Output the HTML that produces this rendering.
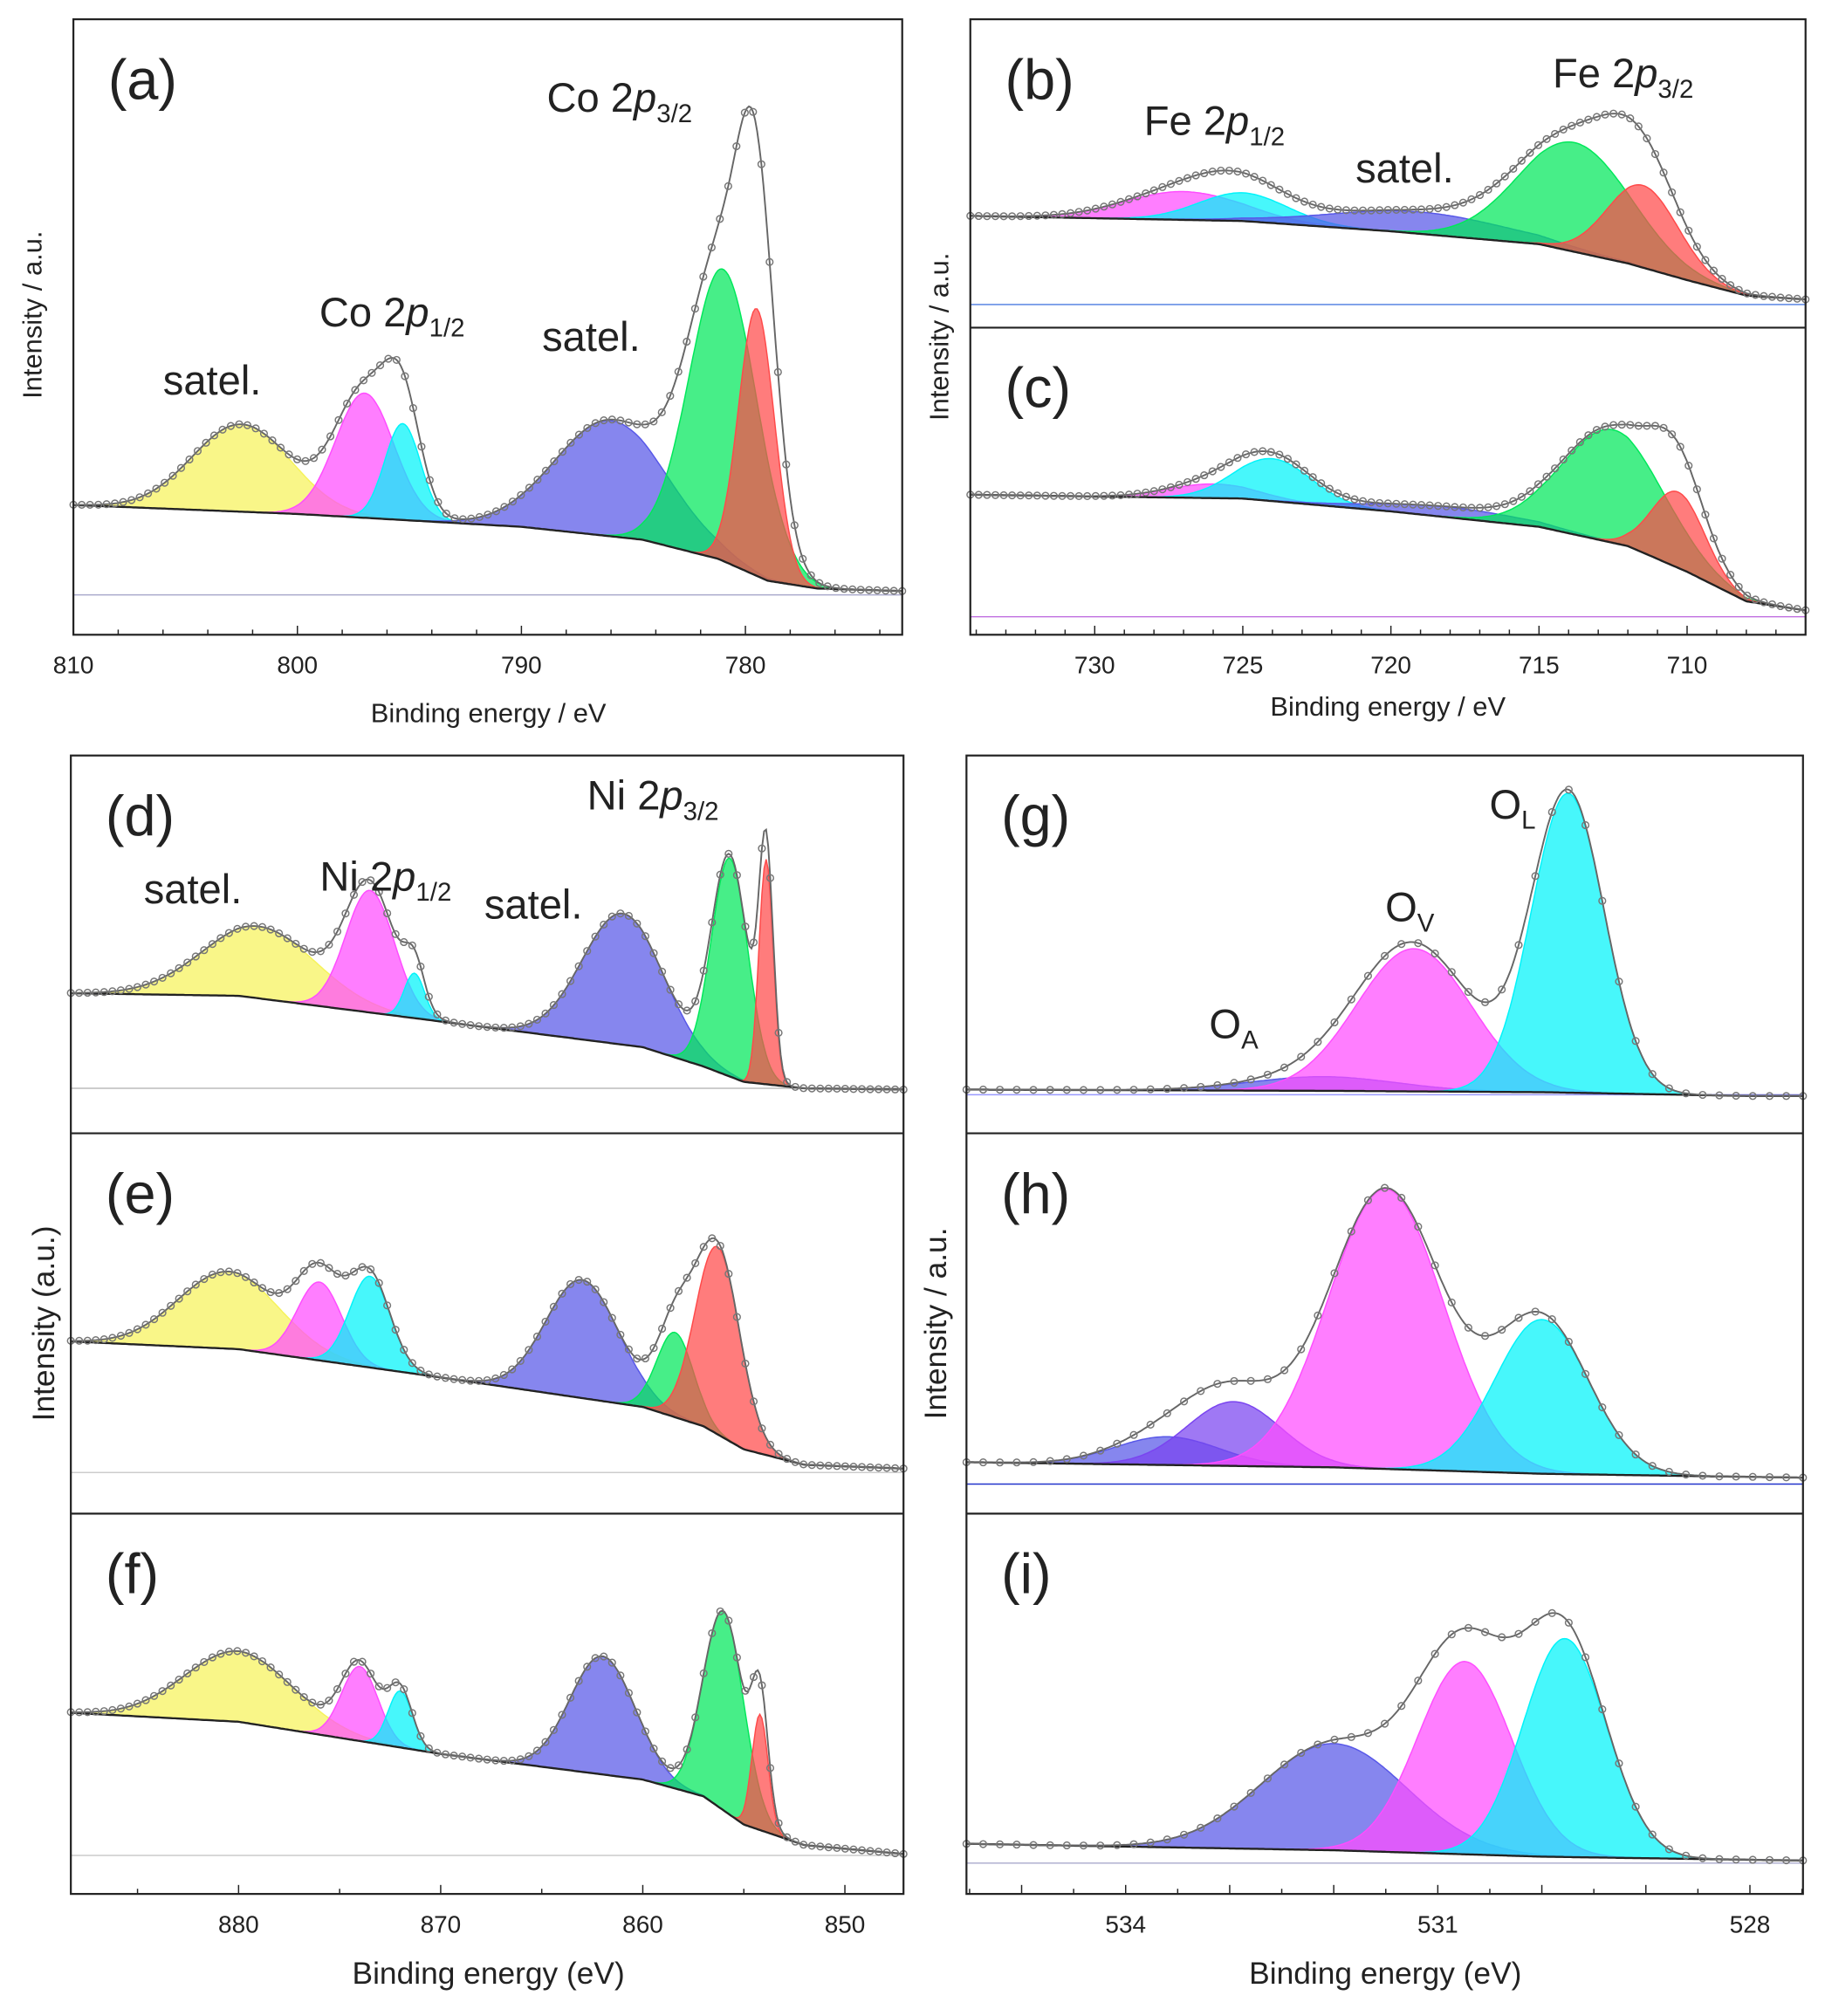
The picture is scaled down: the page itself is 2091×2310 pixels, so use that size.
<!DOCTYPE html>
<html><head><meta charset="utf-8"><style>
html,body{margin:0;padding:0;background:#fff}
svg{display:block}
text{font-family:"Liberation Sans",sans-serif;fill:#222}
</style></head><body>
<svg id="fig" width="2091" height="2310" viewBox="0 0 1420 1569" xmlns="http://www.w3.org/2000/svg"></svg>
<script>
// ---- data (energies in eV, intensities in arbitrary counts) ----
// panel a: Co 2p
const aCenters=[802.5,797,795.3,786,781,779.5];
const aHeights=[68,97,75,90,227,208];
const aWidths=[2.2,1.3,0.8,2.5,1.5,0.8];
const aColors=['yellow','magenta','cyan','blue','green','red'];
const aBgE=[810,800,790,784.6,781.2,779,776.8,773];
const aBgI=[101,94,84,74,59,42,36,34];
// panel b: Fe 2p
const bCenters=[727,725,719,713.8,711.5];
const bHeights=[22,22,17,85,64];
const bWidths=[2,1.5,3,1.9,1.2];
const bColors=['magenta','cyan','blue','green','red'];
const bBgE=[734.2,725,720,715,712,710,708,706];
const bBgI=[87,83,75,65,50,37,25,22];
// panel c
const cCenters=[726,724,718,712.5,710.3];
const cHeights=[11,33,8,88,59];
const cWidths=[1.5,1.3,2.5,1.7,0.9];
const cColors=['magenta','cyan','blue','green','red'];
const cBgE=[734.2,725,720,715,712,710,708,706];
const cBgI=[109,106,96,84,69,49,26,19];
// panel d: Ni 2p
const dCenters=[879,873.5,871.3,861,855.7,853.9];
const dHeights=[56,95,35,102,170,175];
const dWidths=[2.8,1.2,0.5,2,0.9,0.35];
const dColors=['yellow','magenta','cyan','blue','green','red'];
const dBgE=[888.3,880,870,860,857,855,852,847];
const dBgI=[109,107,87,67,52,40,35,34];
// panel e
const eCenters=[880.5,876,873.5,863,858.4,856.3];
const eHeights=[60,61,71,92,66,146];
const eWidths=[2.5,1.1,1,1.8,0.9,1.1];
const eColors=['yellow','magenta','cyan','blue','green','red'];
const eBgE=[888.3,880,870,860,857,855,852,847];
const eBgI=[134,128,106,83,68,50,38,35];
// panel f
const fCenters=[880,874,872,862,856,854.2];
const fHeights=[55,58,44,92,155,90];
const fWidths=[2.7,0.9,0.6,1.6,1,0.4];
const fColors=['yellow','magenta','cyan','blue','green','red'];
const fBgE=[888.3,880,870,860,857,855,852,847];
const fBgI=[141,134,109,89,76,54,38,31];
// panel g: O 1s
const gCenters=[532.1,531.23,529.75];
const gHeights=[11,111,233];
const gWidths=[0.7,0.55,0.35];
const gColors=['blue','magenta','cyan'];
const gBgE=[535.5,532,530,528,527.5];
const gBgI=[34,33,32,29,29];
// panel h
const hCenters=[533.6,532.96,531.5,530.0];
const hHeights=[22,50,218,120];
const hWidths=[0.5,0.45,0.55,0.45];
const hColors=['blue','violet','magenta','cyan'];
const hBgE=[535.5,532,530,527.5];
const hBgI=[40,36,31,28];
// panel i
const iCenters=[532.0,530.74,529.78];
const iHeights=[83,150,170];
const iWidths=[0.7,0.45,0.4];
const iColors=['blue','magenta','cyan'];
const iBgE=[535.5,532,530,527.5];
const iBgI=[39,34,29,26];

const FILL={yellow:'#f6f35a',magenta:'#ff4cff',cyan:'#00f4fa',blue:'#5858e8',green:'#00e85a',red:'#ff4a4a',violet:'#7a44f0'};
const NS='http://www.w3.org/2000/svg';
const svg=document.getElementById('fig');
function mk(tag,attrs,parent){const e=document.createElementNS(NS,tag);for(const k in attrs)e.setAttribute(k,attrs[k]);(parent||svg).appendChild(e);return e;}
function interp(E,I,x){for(let k=0;k<E.length-1;k++){const a=E[k],b=E[k+1];if((x<=a&&x>=b)){return I[k]+(I[k+1]-I[k])*(a-x)/(a-b);}}return x>E[0]?I[0]:I[I.length-1];}
function gauss(c,h,w,x){return h*Math.exp(-(x-c)*(x-c)/(2*w*w));}

function panel(p){
  const g=mk('g',{});
  
  
  const xs=e=>p.x0+(p.eL-e)/(p.eL-p.eR)*(p.x1-p.x0);
  const ys=v=>p.yb-v;
  const N=400, E=[];
  for(let k=0;k<=N;k++)E.push(p.eL-(p.eL-p.eR)*k/N);
  const bg=E.map(e=>interp(p.bgE,p.bgI,e));
  const zl=mk('line',{x1:p.x0,x2:p.x1,y1:ys(p.zero),y2:ys(p.zero),stroke:p.zeroColor,'stroke-width':1},g);
  
  p.centers.forEach((c,j)=>{
    let d='';
    E.forEach((e,k)=>{d+=(k?'L':'M')+xs(e).toFixed(1)+','+ys(bg[k]+gauss(c,p.heights[j],p.widths[j],e)).toFixed(1);});
    for(let k=N;k>=0;k--)d+='L'+xs(E[k]).toFixed(1)+','+ys(bg[k]).toFixed(1);
    const pk=mk('path',{d:d+'Z',fill:FILL[p.colors[j]],'fill-opacity':0.72,stroke:FILL[p.colors[j]],'stroke-width':1},g);
    
  });
  let bd='';E.forEach((e,k)=>{bd+=(k?'L':'M')+xs(e).toFixed(1)+','+ys(bg[k]).toFixed(1);});
  const bl=mk('path',{d:bd,fill:'none',stroke:'#222','stroke-width':1.6},g);
  
  const env=E.map((e,k)=>bg[k]+p.centers.reduce((s,c,j)=>s+gauss(c,p.heights[j],p.widths[j],e),0));
  let ed='';E.forEach((e,k)=>{ed+=(k?'L':'M')+xs(e).toFixed(1)+','+ys(env[k]).toFixed(1);});
  const el=mk('path',{d:ed,fill:'none',stroke:'#666','stroke-width':1.3},g);
  
  for(let k=0;k<=N;k+=p.step){
    const ci=mk('circle',{cx:xs(E[k]).toFixed(1),cy:ys(env[k]).toFixed(1),r:2.6,fill:'none',stroke:'#777','stroke-width':1},g);
    
  }
  const lb=mk('text',{x:p.x0+27,y:p.yt+62,'font-size':44},g);lb.textContent=p.label;
  
  return xs;
}
function frame(x0,x1,yt,yb,eL,eR,major,minor,labels,name){
  const r=mk('rect',{x:x0,y:yt,width:x1-x0,height:yb-yt,fill:'none',stroke:'#222','stroke-width':1.5});
  
  const xs=e=>x0+(eL-e)/(eL-eR)*(x1-x0);
  const nMin=Math.ceil(eR/minor-1e-9), nMax=Math.floor(eL/minor+1e-9);
  for(let n=nMin;n<=nMax;n++){
    const e=n*minor;
    const isM=Math.abs(e/major-Math.round(e/major))<1e-6;
    mk('line',{x1:xs(e),x2:xs(e),y1:yb,y2:yb-(isM?7:4),stroke:'#222','stroke-width':1});
  }
  labels.forEach(v=>{const t=mk('text',{x:xs(v),y:yb+30,'font-size':19,'text-anchor':'middle'});t.textContent=v;
    });
}
function txt(x,y,s,size,name,rot){const t=mk('text',{x:x,y:y,'font-size':size,'text-anchor':'middle'});if(rot)t.setAttribute('transform','rotate(-90 '+x+' '+y+')');t.innerHTML=s;
  return t;}

panel({name:'panel-a',x0:57,x1:702,yt:15,yb:494,eL:810,eR:773,zero:31,zeroColor:'#aac',centers:aCenters,heights:aHeights,widths:aWidths,colors:aColors,bgE:aBgE,bgI:aBgI,step:4,label:'(a)'});
frame(57,702,15,494,810,773,10,2,[810,800,790,780],'panel-a-frame');
panel({name:'panel-b',x0:755,x1:1405,yt:15,yb:255,eL:734.2,eR:706,zero:18,zeroColor:'#4a7ae0',centers:bCenters,heights:bHeights,widths:bWidths,colors:bColors,bgE:bBgE,bgI:bBgI,step:4,label:'(b)'});
panel({name:'panel-c',x0:755,x1:1405,yt:255,yb:494,eL:734.2,eR:706,zero:14,zeroColor:'#c070e0',centers:cCenters,heights:cHeights,widths:cWidths,colors:cColors,bgE:cBgE,bgI:cBgI,step:4,label:'(c)'});
frame(755,1405,15,494,734.2,706,5,1,[730,725,720,715,710],'panel-bc-frame');
mk('line',{x1:755,x2:1405,y1:255,y2:255,stroke:'#222','stroke-width':1.5});
panel({name:'panel-d',x0:55,x1:703,yt:588,yb:882,eL:888.3,eR:847.1,zero:35,zeroColor:'#bbb',centers:dCenters,heights:dHeights,widths:dWidths,colors:dColors,bgE:dBgE,bgI:dBgI,step:4,label:'(d)'});
panel({name:'panel-e',x0:55,x1:703,yt:882,yb:1178,eL:888.3,eR:847.1,zero:32,zeroColor:'#ccc',centers:eCenters,heights:eHeights,widths:eWidths,colors:eColors,bgE:eBgE,bgI:eBgI,step:4,label:'(e)'});
panel({name:'panel-f',x0:55,x1:703,yt:1178,yb:1474,eL:888.3,eR:847.1,zero:30,zeroColor:'#ccc',centers:fCenters,heights:fHeights,widths:fWidths,colors:fColors,bgE:fBgE,bgI:fBgI,step:4,label:'(f)'});
frame(55,703,588,1474,888.3,847.1,10,5,[880,870,860,850],'panel-def-frame');
mk('line',{x1:55,x2:703,y1:882,y2:882,stroke:'#222','stroke-width':1.5});
mk('line',{x1:55,x2:703,y1:1178,y2:1178,stroke:'#222','stroke-width':1.5});
panel({name:'panel-g',x0:752,x1:1403,yt:588,yb:882,eL:535.53,eR:527.49,zero:30,zeroColor:'#99f',centers:gCenters,heights:gHeights,widths:gWidths,colors:gColors,bgE:gBgE,bgI:gBgI,step:8,label:'(g)'});
panel({name:'panel-h',x0:752,x1:1403,yt:882,yb:1178,eL:535.53,eR:527.49,zero:23,zeroColor:'#2233cc',centers:hCenters,heights:hHeights,widths:hWidths,colors:hColors,bgE:hBgE,bgI:hBgI,step:8,label:'(h)'});
panel({name:'panel-i',x0:752,x1:1403,yt:1178,yb:1474,eL:535.53,eR:527.49,zero:24,zeroColor:'#aac',centers:iCenters,heights:iHeights,widths:iWidths,colors:iColors,bgE:iBgE,bgI:iBgI,step:8,label:'(i)'});
frame(752,1403,588,1474,535.53,527.49,1,0.5,[534,531,528],'panel-ghi-frame');
mk('line',{x1:752,x2:1403,y1:882,y2:882,stroke:'#222','stroke-width':1.5});
mk('line',{x1:752,x2:1403,y1:1178,y2:1178,stroke:'#222','stroke-width':1.5});

txt(380,562,'Binding energy / eV',21,'x-axis-title-a');
txt(32,245,'Intensity / a.u.',21,'y-axis-title-a',true);
txt(1080,557,'Binding energy / eV',21,'x-axis-title-bc');
txt(738,262,'Intensity / a.u.',21,'y-axis-title-bc',true);
txt(380,1544,'Binding energy (eV)',24,'x-axis-title-def');
txt(42,1030,'Intensity (a.u.)',24,'y-axis-title-def',true);
txt(1078,1544,'Binding energy (eV)',24,'x-axis-title-ghi');
txt(736,1030,'Intensity / a.u.',24,'y-axis-title-ghi',true);
const S='<tspan font-size="20" dy="8">', E2='</tspan>';
txt(165,307,'satel.',32,'label-satellite');
txt(305,254,'Co 2<tspan font-style="italic">p</tspan>'+S+'1/2'+E2,32,'label-co-2p12');
txt(460,273,'satel.',32,'label-satellite');
txt(482,87,'Co 2<tspan font-style="italic">p</tspan>'+S+'3/2'+E2,32,'label-co-2p32');
txt(945,105,'Fe 2<tspan font-style="italic">p</tspan>'+S+'1/2'+E2,32,'label-fe-2p12');
txt(1093,142,'satel.',32,'label-satellite');
txt(1263,68,'Fe 2<tspan font-style="italic">p</tspan>'+S+'3/2'+E2,32,'label-fe-2p32');
txt(150,703,'satel.',32,'label-satellite');
txt(300,693,'Ni 2<tspan font-style="italic">p</tspan>'+S+'1/2'+E2,32,'label-ni-2p12');
txt(415,715,'satel.',32,'label-satellite');
txt(508,630,'Ni 2<tspan font-style="italic">p</tspan>'+S+'3/2'+E2,32,'label-ni-2p32');
txt(960,808,'O'+S+'A'+E2,32,'label-oa');
txt(1097,717,'O'+S+'V'+E2,32,'label-ov');
txt(1177,637,'O'+S+'L'+E2,32,'label-ol');
</script>
</body></html>
